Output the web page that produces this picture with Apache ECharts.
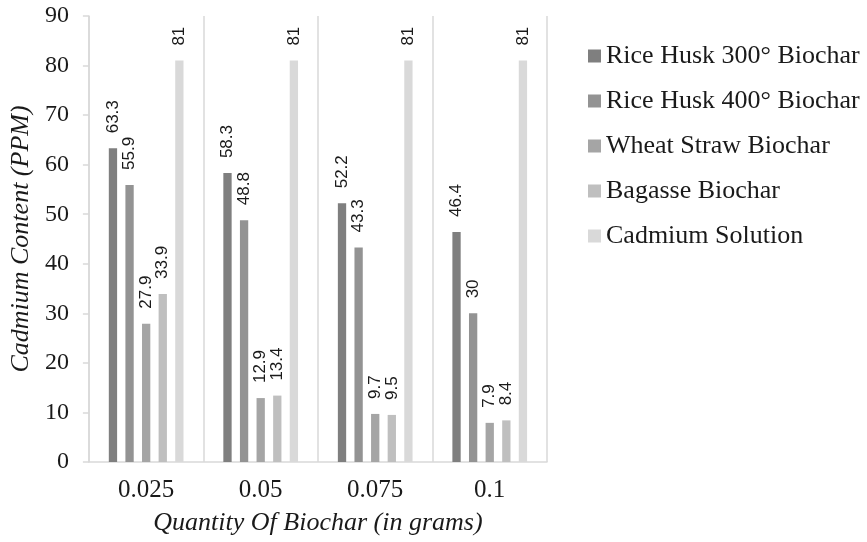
<!DOCTYPE html>
<html>
<head>
<meta charset="utf-8">
<script src="https://cdn.jsdelivr.net/npm/echarts@6/dist/echarts.min.js"></script>
<style>
  html, body { margin: 0; padding: 0; background: #fff; }
  #chart { width: 867px; height: 542px; }
</style>
</head>
<body>
<div id="chart"></div>
<script>
// Biochar quantity (g) on the category axis
const categories = ['0.025', '0.05', '0.075', '0.1'];

// Cadmium content remaining (PPM) for each adsorbent
const riceHusk300 = [63.3, 58.3, 52.2, 46.4];
const riceHusk400 = [55.9, 48.8, 43.3, 30];
const wheatStraw = [27.9, 12.9, 9.7, 7.9];
const bagasse = [33.9, 13.4, 9.5, 8.4];
const cadmiumSolution = [81, 81, 81, 81];

const seriesNames = [
  'Rice Husk 300° Biochar',
  'Rice Husk 400° Biochar',
  'Wheat Straw Biochar',
  'Bagasse Biochar',
  'Cadmium Solution'
];
const seriesData = [riceHusk300, riceHusk400, wheatStraw, bagasse, cadmiumSolution];
const seriesColors = ['#7f7f7f', '#939393', '#a5a5a5', '#bfbfbf', '#d9d9d9'];

const serif = 'Liberation Serif, DejaVu Serif, Times New Roman, serif';
const sans = 'Liberation Sans, DejaVu Sans, Arial, sans-serif';
const gridLine = '#d9d9d9';

const chart = echarts.init(document.getElementById('chart'));

chart.setOption({
  animation: false,
  backgroundColor: '#ffffff',
  grid: { left: 88, right: 320, top: 16, bottom: 80, containLabel: false },
  legend: {
    orient: 'vertical',
    left: 583,
    top: 38,
    itemWidth: 13,
    itemHeight: 13,
    itemGap: 19,
    icon: 'rect',
    textStyle: { fontFamily: serif, fontSize: 26, color: '#1a1a1a', lineHeight: 26 },
    data: seriesNames
  },
  xAxis: {
    type: 'category',
    data: categories,
    name: 'Quantity Of Biochar (in grams)',
    nameLocation: 'middle',
    nameGap: 48,
    nameTextStyle: { fontFamily: serif, fontSize: 26, fontStyle: 'italic', color: '#1a1a1a' },
    axisLine: { show: true, lineStyle: { color: gridLine, width: 1.5 } },
    axisTick: { show: false },
    axisLabel: { fontFamily: serif, fontSize: 25, color: '#1a1a1a', margin: 16 },
    splitLine: { show: true, lineStyle: { color: gridLine, width: 1.5 } }
  },
  yAxis: {
    type: 'value',
    min: 0,
    max: 90,
    interval: 10,
    name: 'Cadmium Content (PPM)',
    nameLocation: 'middle',
    nameGap: 52,
    nameTextStyle: { fontFamily: serif, fontSize: 26, fontStyle: 'italic', color: '#1a1a1a' },
    axisLine: { show: true, lineStyle: { color: gridLine, width: 1.5 } },
    axisTick: { show: true, length: 6, lineStyle: { color: gridLine, width: 1.5 } },
    axisLabel: { fontFamily: serif, fontSize: 24, color: '#1a1a1a', margin: 20 },
    splitLine: { show: false }
  },
  series: seriesNames.map((name, i) => ({
    name: name,
    type: 'bar',
    data: seriesData[i],
    barWidth: 8.3,
    barGap: '100%',
    itemStyle: { color: seriesColors[i] },
    label: {
      show: true,
      position: 'top',
      rotate: 90,
      align: 'left',
      verticalAlign: 'middle',
      distance: 15,
      fontFamily: sans,
      fontSize: 17,
      color: '#1a1a1a'
    }
  }))
});
</script>
</body>
</html>
